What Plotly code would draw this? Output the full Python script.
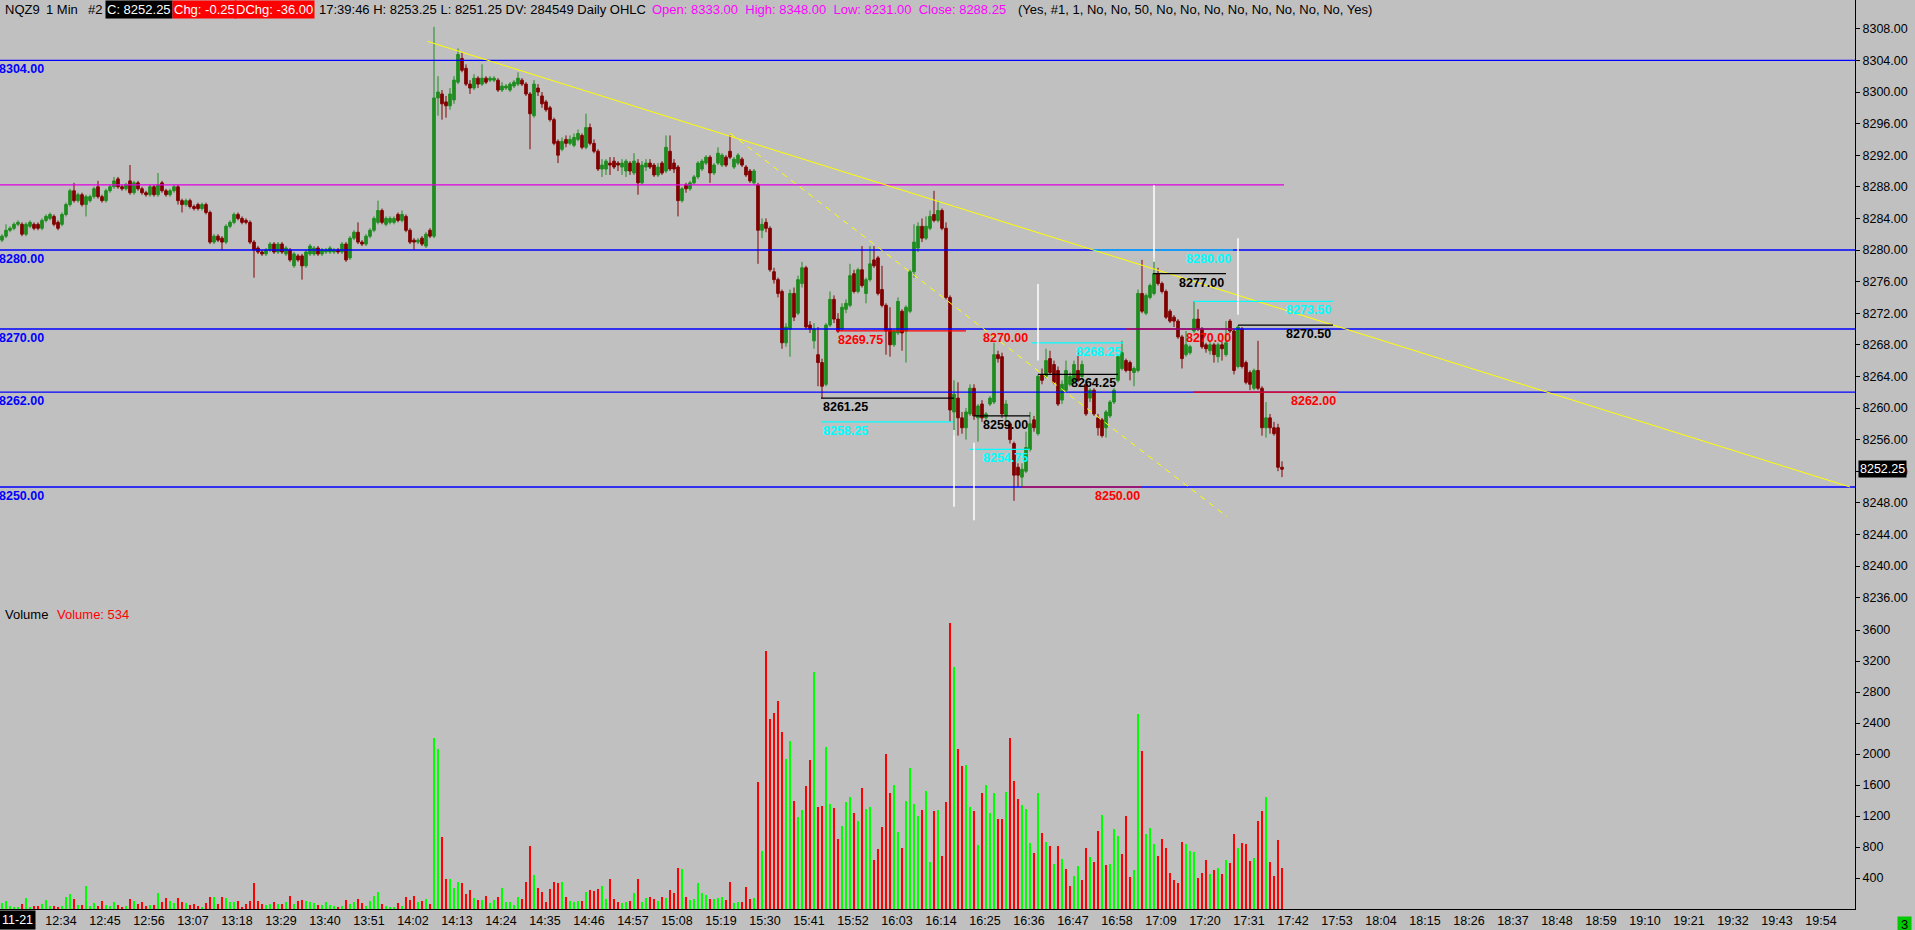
import plotly.graph_objects as go

FONT = "Liberation Sans, Arial, sans-serif"

# ---------------- data ----------------
first_bar_time = "12:20"          # time stamp of the first 1-minute bar

opens = [
    8281.25, 8281.75, 8282.5, 8282.75, 8283.25, 8283.25, 8282, 8283, 8283.25, 8283.25,
    8282.75, 8283.75, 8284, 8284.25, 8283.5, 8283.25, 8284.5, 8285.75, 8287.5, 8286.25,
    8287, 8285.75, 8286.25, 8286.75, 8288, 8286.75, 8286.25, 8287.5, 8288, 8289,
    8288, 8287.75, 8288.75, 8287.25, 8288.5, 8287.75, 8287.25, 8287, 8288, 8287,
    8288.5, 8287.5, 8287, 8287.5, 8288, 8286.25, 8285.75, 8286.25, 8285.5, 8285.75,
    8285.25, 8285.75, 8284.75, 8281, 8281.75, 8281.5, 8281, 8283, 8283.5, 8284.5,
    8284, 8283.75, 8283.5, 8281, 8280.25, 8279.75, 8279.5, 8280, 8280.75, 8279.75,
    8280.75, 8279.5, 8280, 8278, 8279.25, 8279.25, 8278, 8279.5, 8279.5, 8280.25,
    8279.5, 8279.75, 8279.75, 8279.75, 8280, 8279.75, 8280.75, 8279, 8281.5, 8282.25,
    8281, 8280.75, 8281.75, 8282.5, 8283.5, 8285, 8283.25, 8283.5, 8283.5, 8284.5,
    8283.75, 8284.25, 8282.5, 8281.25, 8281, 8281.5, 8280.5, 8282.5, 8281.75, 8299.25,
    8299.75, 8298.75, 8298.25, 8299, 8301.25, 8304.25, 8303, 8301, 8300.5, 8301.75,
    8301, 8301.75, 8301.5, 8301.5, 8301.5, 8300.25, 8300.5, 8300.25, 8300.75, 8301,
    8301.5, 8301, 8299.75, 8297, 8300.5, 8299.5, 8298.75, 8298, 8296.5, 8293.75,
    8292.75, 8294, 8293.5, 8293.25, 8294, 8294.5, 8293, 8295.5, 8293.5, 8292.5,
    8290.25, 8290.25, 8291, 8291.25, 8291, 8290.5, 8290, 8291, 8289.75, 8291,
    8288.5, 8290.5, 8291, 8290.75, 8289.5, 8291, 8290, 8292.5, 8291, 8290.5,
    8286.25, 8288.25, 8287.75, 8288.5, 8289.25, 8290.25, 8291, 8291.75, 8289.75, 8291,
    8290.75, 8291.75, 8292.5, 8290.5, 8291, 8291.5, 8290.5, 8290, 8288.5, 8288.25,
    8282.5, 8283.5, 8282.75, 8277.25, 8276.25, 8274.75, 8268.25, 8270, 8274.5, 8272,
    8275.75, 8277.75, 8270.5, 8268.5, 8266.75, 8265.75, 8263, 8270.5, 8273.75, 8271.25,
    8270, 8272.5, 8273, 8277, 8274.75, 8277.5, 8274.5, 8276.25, 8278.75, 8279,
    8275, 8273, 8270, 8268, 8269.5, 8272.25, 8269.75, 8272.25, 8277.25, 8280.25,
    8283, 8281.5, 8282.75, 8284.5, 8283.75, 8285, 8282.75, 8274, 8259.5, 8261.25,
    8258.75, 8257.5, 8259.25, 8262.5, 8258.75, 8260.5, 8258.75, 8260.5, 8260.75, 8266.75,
    8266.5, 8259, 8258, 8255.5, 8252.5, 8251.25, 8252, 8254.75, 8258.5, 8256.75,
    8264.25, 8264, 8266.25, 8265.5, 8264.75, 8261, 8262.25, 8263, 8263.25, 8264.75,
    8264, 8263, 8261.25, 8262.25, 8258.75, 8258.5, 8257.5, 8259, 8260.75, 8263.5,
    8265, 8266, 8265.75, 8264.5, 8264.75, 8274.5, 8272, 8274, 8274.5, 8277,
    8275.75, 8274.75, 8272.25, 8271.5, 8271, 8269, 8266.75, 8267, 8269.75, 8271.25,
    8270, 8268, 8267.25, 8268, 8266.5, 8268, 8266.75, 8271, 8269.75, 8265.25,
    8270, 8265.75, 8264.5, 8262.5, 8264.75, 8262.5, 8257.5, 8258.75, 8257.5, 8257.5,
    8252.5,
]

highs = [
    8282, 8283.25, 8283, 8283.5, 8283.75, 8283.5, 8283.5, 8283.75, 8283.5, 8283.5,
    8284, 8284.5, 8284.75, 8284.5, 8283.75, 8284.75, 8286, 8287.75, 8288.5, 8287.25,
    8287.25, 8287, 8287, 8288, 8288.75, 8287, 8287.75, 8288.25, 8289.25, 8289.25,
    8288.25, 8288.5, 8290.75, 8288.75, 8288.75, 8288, 8287.5, 8288.25, 8288.25, 8289.75,
    8288.75, 8287.75, 8287.75, 8288.25, 8288.25, 8286.5, 8286.5, 8286.5, 8285.75, 8286,
    8286, 8286, 8285, 8282, 8282, 8281.75, 8283.25, 8283.75, 8284.75, 8284.75,
    8284.25, 8284, 8283.75, 8281.25, 8280.5, 8280, 8280.25, 8281, 8281, 8281,
    8281, 8280.5, 8280.25, 8279.75, 8279.5, 8279.5, 8280, 8280.75, 8280.5, 8280.5,
    8280.25, 8280.25, 8280.5, 8280.25, 8280.25, 8281, 8281, 8281.75, 8282.5, 8283.5,
    8281.25, 8282, 8282.75, 8284.25, 8286.25, 8285.25, 8284.25, 8284.25, 8284.25, 8284.75,
    8285, 8284.5, 8282.75, 8281.5, 8281.5, 8281.75, 8282.25, 8282.75, 8308.25, 8302,
    8300.25, 8299.5, 8300.5, 8302, 8305.5, 8305, 8303.5, 8301.5, 8302.25, 8302,
    8303.5, 8302, 8302, 8302, 8301.75, 8301.25, 8301, 8301.25, 8301.5, 8302.5,
    8301.75, 8301.25, 8300, 8301.5, 8301, 8300, 8299, 8298.25, 8296.75, 8294,
    8294.25, 8294.5, 8294.5, 8294.75, 8295.25, 8294.75, 8297.25, 8296, 8294, 8292.75,
    8291.5, 8291.5, 8291.75, 8291.75, 8291.25, 8291.5, 8291.5, 8291.25, 8292.25, 8291.5,
    8291.25, 8291.5, 8291.5, 8291, 8291, 8291.25, 8294.5, 8294.5, 8291.5, 8290.75,
    8288, 8288.5, 8288.75, 8289.5, 8291.25, 8291.5, 8292, 8292, 8291, 8293,
    8292.25, 8292, 8294.5, 8291.75, 8292.25, 8291.75, 8290.75, 8290.25, 8290.25, 8288.5,
    8284, 8284, 8283, 8277.75, 8276.5, 8275, 8270.75, 8275, 8275.25, 8276.75,
    8278.5, 8278, 8271, 8270.75, 8270.25, 8266.25, 8270.75, 8274.75, 8274.25, 8272,
    8273.25, 8273.75, 8278.25, 8277.5, 8277.75, 8280.5, 8276.5, 8280.5, 8280.5, 8279.25,
    8278, 8273.25, 8272.75, 8270, 8274, 8272.5, 8273, 8277.5, 8283.25, 8283.5,
    8284, 8284.25, 8285, 8287.5, 8286.25, 8285.25, 8283.5, 8274.25, 8263.5, 8263.25,
    8259.5, 8260, 8263, 8263, 8260.5, 8261, 8259.5, 8261.5, 8268.25, 8267.25,
    8267, 8261, 8258.25, 8255.75, 8253, 8253, 8257, 8259.5, 8259, 8264.25,
    8265, 8267.5, 8267.25, 8266, 8265.25, 8263.5, 8266, 8264.5, 8266, 8267.25,
    8266, 8263.5, 8262.5, 8262.5, 8259.25, 8258.75, 8259.75, 8261, 8262.5, 8266.75,
    8268.5, 8266.25, 8266, 8265.25, 8275, 8278.75, 8274.5, 8275.75, 8279, 8277.75,
    8276, 8275, 8272.5, 8271.75, 8271.25, 8269.25, 8269.75, 8268, 8273.5, 8272.5,
    8270.25, 8268.25, 8268.5, 8268.25, 8268.25, 8268.5, 8271, 8271.25, 8270, 8270.5,
    8270.25, 8266, 8264.75, 8265, 8268.5, 8262.75, 8260.75, 8259.25, 8258.25, 8258,
    8253.25,
]

lows = [
    8281, 8281.5, 8282.25, 8282.5, 8283, 8281.75, 8281.75, 8282.75, 8282.5, 8282.5,
    8282.5, 8283.5, 8283.75, 8283, 8282.5, 8283, 8284.25, 8285.5, 8286, 8286,
    8285.5, 8284.25, 8286, 8286.5, 8286.5, 8286, 8286, 8287.25, 8287.75, 8287.75,
    8287.5, 8287.5, 8287, 8287, 8287.5, 8287, 8286.75, 8286.75, 8286.75, 8286.75,
    8287.25, 8286.75, 8286.75, 8287.25, 8285.75, 8284.75, 8285.5, 8285.25, 8285, 8285,
    8285, 8284.5, 8280.75, 8280.75, 8281, 8280, 8280.75, 8282.75, 8283.25, 8283.75,
    8283.25, 8283.25, 8280.75, 8276.5, 8279.5, 8279.25, 8279.25, 8279.75, 8279.5, 8279.5,
    8279.5, 8279.25, 8278.5, 8277.75, 8278.5, 8276.25, 8277.75, 8279.25, 8279.25, 8279.25,
    8279.25, 8279.5, 8279.5, 8279.5, 8279.5, 8279.5, 8278.5, 8278.75, 8281.25, 8280.75,
    8280.5, 8280.5, 8281.5, 8282.25, 8283.25, 8283.25, 8283, 8283.25, 8283.25, 8283.5,
    8283.5, 8282.25, 8280.75, 8280, 8280.75, 8280.5, 8280.25, 8281.5, 8281.5, 8297,
    8296.5, 8296.75, 8297.75, 8298.5, 8301, 8302.5, 8300.75, 8299.75, 8300.25, 8300.5,
    8300.75, 8301, 8301.25, 8301.25, 8300, 8300, 8300.25, 8300, 8300.5, 8300.75,
    8300.75, 8299.5, 8292.75, 8296.75, 8299.5, 8298, 8297.5, 8296.25, 8293.25, 8291,
    8292.5, 8293, 8293.25, 8293, 8293.75, 8292.75, 8292.75, 8293.25, 8292.25, 8290,
    8289.25, 8289.5, 8289.5, 8290.25, 8290, 8289.5, 8289.25, 8289.5, 8289.5, 8287,
    8288.25, 8290, 8290.25, 8289.25, 8289.25, 8289.5, 8289.75, 8290, 8289.75, 8284.25,
    8286, 8287.25, 8287.5, 8288.25, 8289, 8290, 8290.75, 8288.5, 8289.5, 8290.75,
    8290.5, 8290.5, 8291.5, 8290.25, 8290.75, 8290.5, 8289.25, 8288.5, 8288.25, 8278.25,
    8281.5, 8282.25, 8277.25, 8275.75, 8274, 8267.5, 8267.75, 8266.5, 8271, 8271.75,
    8275.25, 8270, 8269.5, 8267.5, 8262.75, 8261.25, 8262.75, 8270.25, 8270.75, 8269.5,
    8269.75, 8272, 8272.75, 8274.5, 8274.5, 8275.25, 8273.25, 8276, 8277.75, 8274.25,
    8272.75, 8266.75, 8266.5, 8267.75, 8269.25, 8267.25, 8265.75, 8272, 8276.5, 8279.75,
    8281, 8281.25, 8282.5, 8283.5, 8283.5, 8282.5, 8273.75, 8258.25, 8256.5, 8256.5,
    8256.75, 8256, 8259, 8258.5, 8255.75, 8258.25, 8258.25, 8260.25, 8260.5, 8265.75,
    8258.75, 8258.5, 8255.5, 8248.25, 8250, 8250, 8251.75, 8254.5, 8257, 8256.5,
    8263, 8263.75, 8264.25, 8263, 8260.25, 8260.5, 8262, 8262.75, 8263, 8263.25,
    8263.75, 8259, 8260.75, 8259, 8256.5, 8256.25, 8256.25, 8258.75, 8260.5, 8263.25,
    8264.75, 8264.5, 8263.5, 8262.75, 8264.5, 8272, 8271.75, 8273.75, 8274.25, 8275.5,
    8274.5, 8271.25, 8270.75, 8270.25, 8268.75, 8265, 8266.5, 8266.75, 8269.5, 8269.75,
    8267.5, 8267, 8266.75, 8265.75, 8265.75, 8266, 8266.5, 8269.5, 8264.25, 8265,
    8265, 8263, 8262.25, 8262.25, 8262.25, 8256.5, 8256.25, 8256.75, 8256.5, 8252,
    8251.25,
]

closes = [
    8281.75, 8282.5, 8282.75, 8283.25, 8283.5, 8282, 8283.25, 8283.5, 8282.75, 8282.75,
    8283.75, 8284.25, 8284.5, 8283.25, 8282.75, 8284.5, 8285.75, 8287.5, 8286.25, 8287,
    8285.75, 8286.75, 8286.75, 8287.75, 8286.75, 8286.25, 8287.5, 8288, 8288.75, 8288,
    8287.75, 8288.25, 8287.25, 8288.5, 8287.75, 8287.25, 8287, 8288, 8287, 8288.25,
    8287.5, 8287, 8287.5, 8288, 8286.25, 8285.75, 8286.25, 8285.5, 8285.25, 8285.25,
    8285.75, 8284.75, 8281, 8281.75, 8281.25, 8281, 8283, 8283.5, 8284.5, 8284,
    8283.5, 8283.5, 8281, 8280, 8279.75, 8279.5, 8280, 8280.75, 8279.75, 8280.75,
    8279.75, 8280.25, 8278.75, 8279.5, 8278.75, 8278, 8279.75, 8280.5, 8280.25, 8279.5,
    8280, 8280, 8280.25, 8280, 8279.75, 8280.75, 8278.75, 8281.5, 8282.25, 8281,
    8280.75, 8281.75, 8282.5, 8284, 8285, 8283.5, 8284, 8284, 8284, 8283.75,
    8284.5, 8282.5, 8281, 8281, 8281.25, 8280.75, 8282, 8281.75, 8299.25, 8300,
    8298.5, 8298.25, 8299.75, 8301.5, 8304.75, 8302.75, 8301, 8300.5, 8301.75, 8301,
    8301.75, 8301.25, 8301.75, 8301.75, 8300.25, 8300.75, 8300.75, 8301, 8301.25, 8301.75,
    8301, 8299.75, 8297.25, 8301, 8300, 8298.5, 8297.75, 8296.5, 8293.5, 8292,
    8293.75, 8293.5, 8294, 8294.25, 8294.75, 8293, 8295.5, 8293.5, 8292.5, 8290.25,
    8290.75, 8291.25, 8290.75, 8290.5, 8290.75, 8291, 8291.25, 8290, 8291.25, 8288.5,
    8290.75, 8291, 8290.5, 8289.5, 8290.5, 8289.75, 8293, 8290.25, 8290.25, 8286.25,
    8287.75, 8287.75, 8288.5, 8289.25, 8291, 8291.25, 8291.75, 8289.75, 8290.75, 8292.25,
    8292, 8290.75, 8291.75, 8291.5, 8292, 8290.75, 8289.5, 8288.75, 8290, 8282.5,
    8283.25, 8282.75, 8277.5, 8276.25, 8274.5, 8268.25, 8270.25, 8274.5, 8271.5, 8276.25,
    8277.75, 8270.25, 8270, 8270, 8265.75, 8262.75, 8270.5, 8273.75, 8271.25, 8269.75,
    8272.75, 8273.25, 8276.75, 8274.75, 8277.5, 8275.5, 8276.25, 8278.25, 8278, 8274.5,
    8273, 8269.75, 8268, 8269.75, 8273.5, 8269.5, 8272.75, 8277.25, 8281, 8283,
    8281.5, 8283, 8284.25, 8283.75, 8285, 8282.75, 8274, 8259.75, 8261.75, 8258.75,
    8257.5, 8259.5, 8262.5, 8259, 8260.25, 8258.75, 8259.25, 8261.25, 8266.75, 8266.25,
    8259.25, 8260.5, 8256, 8251.5, 8251.5, 8252.25, 8255, 8258, 8257.5, 8264,
    8263.5, 8266, 8264.5, 8263.25, 8260.5, 8263, 8264.75, 8264, 8265.5, 8263.5,
    8265.5, 8259.25, 8262.25, 8259.25, 8257.5, 8256.5, 8259.5, 8260.75, 8262.25, 8266.5,
    8267, 8264.75, 8264.75, 8265, 8274.5, 8272.25, 8274.25, 8275.5, 8277, 8275.75,
    8274.75, 8271.5, 8271, 8271, 8269, 8266.25, 8268, 8267.75, 8271.25, 8270,
    8267.75, 8267.5, 8268, 8266.75, 8268, 8267.5, 8268.25, 8269.75, 8264.75, 8270.25,
    8265.25, 8263.25, 8263, 8264.75, 8262.5, 8257.5, 8258.75, 8257.5, 8256.75, 8252.5,
    8252.25,
]

volumes = [
    73, 103, 39, 26, 26, 65, 142, 26, 39, 39,
    65, 116, 39, 39, 26, 39, 155, 194, 129, 52,
    52, 297, 39, 77, 39, 103, 52, 39, 90, 52,
    26, 39, 129, 103, 65, 90, 39, 52, 52, 206,
    90, 142, 103, 77, 142, 90, 77, 52, 65, 39,
    26, 77, 155, 155, 65, 155, 142, 90, 90, 103,
    13, 65, 103, 335, 103, 65, 52, 65, 90, 65,
    65, 90, 168, 65, 103, 116, 103, 90, 77, 52,
    52, 90, 52, 39, 13, 39, 116, 65, 90, 129,
    77, 39, 103, 168, 219, 65, 39, 13, 26, 77,
    39, 155, 116, 168, 90, 103, 129, 65, 2206, 2065,
    929, 387, 387, 271, 348, 335, 194, 245, 142, 116,
    116, 168, 77, 116, 155, 271, 90, 90, 52, 155,
    129, 348, 813, 439, 271, 219, 90, 258, 348, 335,
    348, 155, 103, 90, 103, 103, 219, 245, 232, 258,
    297, 129, 387, 129, 90, 77, 90, 103, 206, 387,
    90, 142, 155, 129, 103, 155, 142, 245, 206, 529,
    516, 155, 116, 129, 335, 206, 181, 129, 129, 142,
    155, 116, 348, 77, 90, 90, 284, 129, 142, 1639,
    748, 3329, 2452, 2529, 2684, 2284, 1935, 2168, 1394, 1187,
    1277, 1587, 1923, 3058, 1316, 1329, 2090, 1355, 1303, 903,
    1071, 1381, 1445, 1239, 1135, 1561, 1290, 1316, 632, 774,
    1058, 2000, 1497, 1600, 994, 787, 1394, 1819, 1355, 1200,
    1277, 1523, 606, 1265, 1277, 684, 1381, 3690, 3123, 2065,
    1845, 1858, 1316, 1265, 826, 1497, 1600, 1239, 1497, 1161,
    1161, 1510, 2206, 1652, 1419, 1342, 1290, 852, 723, 1497,
    981, 865, 813, 581, 813, 645, 516, 297, 426, 555,
    374, 787, 671, 606, 1006, 1213, 568, 581, 1032, 942,
    710, 1200, 413, 503, 2516, 2039, 968, 1045, 839, 684,
    903, 787, 465, 374, 335, 865, 839, 748, 735, 400,
    465, 632, 452, 503, 529, 452, 632, 594, 968, 787,
    852, 839, 619, 658, 1135, 1265, 1445, 606, 426, 890,
    534,
]

# up (G) / down (R) colouring of each volume bar
volume_dirs = list(
    "GGGGGRGGRR" "GGGRRGGGRG" "RGGGRRGGGR" "RGRGRRRGRG" "RRGGRRGRRR" "GRRGRRGGGR"
    "RRRRRRGGRG" "RGRGRRGGGR" "GGGGRGRGGR" "RGGGGRGGGR" "GRRRGRGRGG"
    "RRGGGRRRGR" "GRGGRGGGGG" "RRRGRRRRRR" "GRGGGRGRRR" "GGRRRGGRGR" "GGRRGRGRRR"
    "GRGGGGGRGG" "GRRGGRRRGR" "GRRRRRGGRG" "GRRGRRGGRR" "GGGRGRGG"
    "RRRRRGGRGG" "GGRGGRGRRR" "GRRGGRGRGG" "GRRGRRRGGG" "RGRGRGRGRR" "GGRRGRRGRG"
    "GGRRRGGRGG" "GRRRRRRRGG" "GRRRGRGRGR" "RGRRRGRRGR" "RRR"
)

time_labels = ["12:34", "12:45", "12:56", "13:07", "13:18", "13:29", "13:40", "13:51",
               "14:02", "14:13", "14:24", "14:35", "14:46", "14:57", "15:08", "15:19",
               "15:30", "15:41", "15:52", "16:03", "16:14", "16:25", "16:36", "16:47",
               "16:58", "17:09", "17:20", "17:31", "17:42", "17:53", "18:04", "18:15",
               "18:26", "18:37", "18:48", "18:59", "19:10", "19:21", "19:32", "19:43",
               "19:54"]
date_label = "11-21"
date_label_time = "12:23"

level_prices = [8304.00, 8280.00, 8270.00, 8262.00, 8250.00]
prior_close = 8288.25
last_price = 8252.25

# trend lines: (start time, start price, end time, end price)
trend_main = ("14:06.4", 8306.4, "20:02", 8250.0)
trend_steep = ("15:22", 8294.8, "17:26.25", 8246.25)

# drawn price segments: (price, start time, end time, colour key, label side)
segments = [
    (8269.75, "15:48.5", "16:21", "red", "left"),
    (8261.25, "15:44.75", "16:18", "black", "left"),
    (8258.25, "15:44.75", "16:17.75", "cyan", "left"),
    (8259.00, "16:23", "16:37", "black", "right"),
    (8254.75, "16:22", "16:37", "cyan", "right"),
    (8250.00, "16:35", "17:05", "red", "right"),
    (8268.25, "16:37.5", "17:00.25", "cyan", "right"),
    (8264.25, "16:39", "16:59", "black", "right"),
    (8280.00, "16:52.75", "17:27.75", "cyan", "right"),
    (8277.00, "17:07.75", "17:26", "black", "right"),
    (8270.00, "17:01", "17:27.75", "red", "right"),
    (8273.50, "17:18", "17:52.75", "cyan", "right"),
    (8270.50, "17:29", "17:52.75", "black", "right"),
    (8262.00, "17:17.75", "17:54", "red", "right"),
]
extra_labels = [(8270.00, "16:37", "red")]

# white marker lines: (time, top price, bottom price)
markers = [("16:18", 8257.2, 8247.5), ("16:23", 8255.6, 8245.8), ("16:39", 8275.7, 8266.0),
           ("17:08", 8288.2, 8278.5), ("17:29", 8281.5, 8271.8)]

# ---------------- helpers ----------------
def to_min(s):
    h, m = s.split(":")
    return int(h) * 60 + float(m)

COLORS = {"red": "#FF0000", "black": "#000000", "cyan": "#00FFFF"}

t0 = to_min(first_bar_time)
xs = [t0 + i for i in range(len(closes))]

PLOT_W = 1915 - 60
PLOT_H = 930 - 21
PRICE_PX = 605            # height of the price pane in px
PX_PER_PT = 7.9
VOL_PX_PER_UNIT = 0.0775
split = (PLOT_H - PRICE_PX) / PLOT_H
price_top = 8280 + 250 / PX_PER_PT
price_bot = price_top - PRICE_PX / PX_PER_PT
vol_top = (PLOT_H - PRICE_PX) / VOL_PX_PER_UNIT

fig = go.Figure()

fig.add_trace(go.Candlestick(
    x=xs, open=opens, high=highs, low=lows, close=closes,
    increasing=dict(line=dict(color="#1E8C1E", width=1), fillcolor="#1E8C1E"),
    decreasing=dict(line=dict(color="#800000", width=1), fillcolor="#800000"),
    whiskerwidth=0, xaxis="x", yaxis="y", hoverinfo="skip", showlegend=False,
))

fig.add_trace(go.Bar(
    x=xs, y=volumes, width=0.5,
    marker=dict(color=["#00FF00" if d == "G" else "#FF0000" for d in volume_dirs],
                line=dict(width=0)),
    xaxis="x", yaxis="y2", hoverinfo="skip", showlegend=False,
))

shapes = []
annotations = []

# full-width blue level lines with left labels
for lv in level_prices:
    shapes.append(dict(type="line", xref="paper", x0=0, x1=1, yref="y", y0=lv, y1=lv,
                       line=dict(color="#0000FF", width=1.3), layer="above"))
    annotations.append(dict(xref="paper", x=0, xanchor="left", xshift=-3, yref="y", y=lv,
                            yanchor="top", yshift=0, showarrow=False,
                            text=f"<b>{lv:.2f}</b>",
                            font=dict(family=FONT, size=12.5, color="#0000FF")))

# prior close (magenta)
shapes.append(dict(type="line", xref="x", x0=xs[0] - 0.5, x1=xs[-1] + 0.5, yref="y",
                   y0=prior_close, y1=prior_close, line=dict(color="#E000E0", width=1.2)))

# trend lines
for (ta, pa, tb, pb), dash in ((trend_main, "solid"), (trend_steep, "6px,5px")):
    shapes.append(dict(type="line", xref="x", yref="y", x0=to_min(ta), y0=pa,
                       x1=to_min(tb), y1=pb, line=dict(color="#FFFF00", width=1, dash=dash)))

# segments + labels
for price, ta, tb, ck, side in segments:
    xa, xb = to_min(ta), to_min(tb)
    shapes.append(dict(type="line", xref="x", yref="y", x0=xa, x1=xb, y0=price, y1=price,
                       line=dict(color=COLORS[ck], width=1.2)))
    annotations.append(dict(xref="x", x=xa if side == "left" else xb,
                            xanchor="left" if side == "left" else "right",
                            yref="y", y=price, yanchor="top", showarrow=False,
                            text=f"<b>{price:.2f}</b>",
                            font=dict(family=FONT, size=12.5, color=COLORS[ck])))
for price, tb, ck in extra_labels:
    annotations.append(dict(xref="x", x=to_min(tb), xanchor="right", yref="y", y=price,
                            yanchor="top", showarrow=False, text=f"<b>{price:.2f}</b>",
                            font=dict(family=FONT, size=12.5, color=COLORS[ck])))

# white marker lines
for t, ptop, pbot in markers:
    shapes.append(dict(type="line", xref="x", yref="y", x0=to_min(t), x1=to_min(t),
                       y0=ptop, y1=pbot, line=dict(color="#FFFFFF", width=1.5)))

# header line
def px(p):
    return p / PLOT_W

header = [
    (3, "NQZ9", "#000000", None),
    (44, "1 Min", "#000000", None),
    (86, "#2", "#000000", None),
    (105, "C: 8252.25", "#FFFFFF", "#000000"),
    (172, "Chg: -0.25", "#FFFFFF", "#FF0000"),
    (234, "DChg: -36.00", "#FFFFFF", "#FF0000"),
    (317, "17:39:46 H: 8253.25 L: 8251.25 DV: 284549 Daily OHLC", "#000000", None),
    (650, "Open: 8333.00&nbsp;&nbsp;High: 8348.00&nbsp;&nbsp;Low: 8231.00&nbsp;&nbsp;Close: 8288.25",
     "#FF00FF", None),
    (1016, "(Yes, #1, 1, No, No, 50, No, No, No, No, No, No, No, No, Yes)", "#000000", None),
]
for x0, txt, col, bg in header:
    a = dict(xref="paper", x=px(x0), xanchor="left", yref="paper", y=1, yanchor="top",
             yshift=0, showarrow=False, text=txt, borderpad=1,
             font=dict(family=FONT, size=13, color=col))
    if bg:
        a["bgcolor"] = bg
    annotations.append(a)

# volume pane title
annotations.append(dict(xref="paper", x=px(3), xanchor="left", yref="paper",
                        y=(PLOT_H - 614) / PLOT_H, yanchor="middle", showarrow=False,
                        text="Volume", font=dict(family=FONT, size=13, color="#000000")))
annotations.append(dict(xref="paper", x=px(55), xanchor="left", yref="paper",
                        y=(PLOT_H - 614) / PLOT_H, yanchor="middle", showarrow=False,
                        text=f"Volume: {volumes[-1]}",
                        font=dict(family=FONT, size=13, color="#FF0000")))

# last price marker on the axis
annotations.append(dict(xref="paper", x=1, xanchor="left", xshift=3, yref="y", y=last_price,
                        yanchor="middle", showarrow=False, text=f"{last_price:.2f}",
                        bgcolor="#000000", borderpad=1,
                        font=dict(family=FONT, size=12.5, color="#FFFFFF")))

# date label on the time axis
annotations.append(dict(xref="x", x=to_min(date_label_time), xanchor="center", xshift=3,
                        yref="paper", y=0, yanchor="top", yshift=-1, showarrow=False,
                        text=date_label, bgcolor="#000000", borderpad=2,
                        font=dict(family=FONT, size=12.5, color="#FFFFFF")))

# small green box bottom-right
annotations.append(dict(xref="paper", x=px(1897), xanchor="left", yref="paper", y=0,
                        yanchor="top", yshift=-7, showarrow=False, text="3",
                        bgcolor="#00C800", borderpad=0, width=13, height=14,
                        font=dict(family=FONT, size=13, color="#000000")))

axis_font = dict(family=FONT, size=12.5, color="#000000")

fig.update_layout(
    width=1915, height=930,
    margin=dict(l=0, r=60, t=0, b=21),
    paper_bgcolor="#C0C0C0", plot_bgcolor="#C0C0C0",
    showlegend=False, boxgap=0.35, boxgroupgap=0, bargap=0,
    shapes=shapes, annotations=annotations,
    xaxis=dict(domain=[0, 1], range=[t0 - 0.5, t0 + 463.25], anchor="y2",
               showgrid=False, zeroline=False, showline=True, linecolor="#000000",
               linewidth=1, ticks="", tickvals=[to_min(s) for s in time_labels],
               ticktext=time_labels, tickfont=axis_font, ticklabelshift=3,
               rangeslider=dict(visible=False), fixedrange=True),
    yaxis=dict(domain=[split, 1], range=[price_bot, price_top], side="right", anchor="x",
               showgrid=False, zeroline=False, showline=True, linecolor="#000000",
               linewidth=1, ticks="outside", ticklen=4, tickcolor="#000000",
               tick0=8236, dtick=4, tickformat=".2f", tickfont=axis_font),
    yaxis2=dict(domain=[0, split], range=[0, vol_top], side="right", anchor="x",
                showgrid=False, zeroline=False, showline=True, linecolor="#000000",
                linewidth=1, ticks="outside", ticklen=4, tickcolor="#000000",
                tickvals=list(range(400, 3601, 400)), tickfont=axis_font),
)

fig.write_html(
    "out.html",
    config={"displayModeBar": False},
    post_script="document.body.style.margin='0px';document.body.style.overflow='hidden';",
)
